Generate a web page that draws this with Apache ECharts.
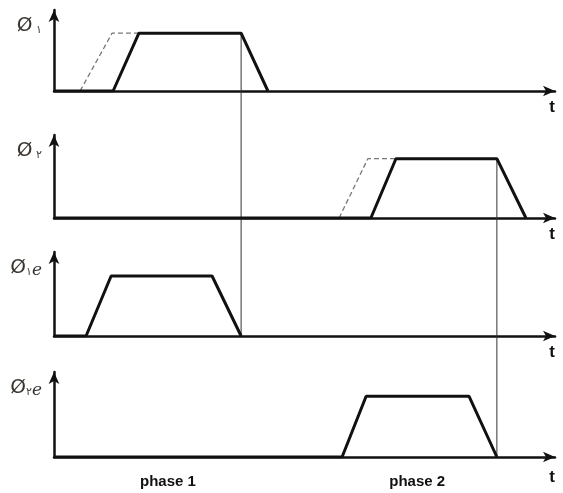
<!DOCTYPE html>
<html>
<head>
<meta charset="utf-8">
<script src="https://cdn.jsdelivr.net/npm/echarts@6/dist/echarts.min.js"></script>
<style>
  html, body { margin: 0; padding: 0; background: #fff; }
  #chart { width: 563px; height: 493px; }
</style>
</head>
<body>
<div id="chart"></div>
<script>
// time values (arbitrary units) and levels
const phi1Solid = [[0, 0], [2.36, 0], [3.39, 1], [7.47, 1], [8.54, 0]]
const phi1Dashed = [[1.04, 0], [2.32, 1], [3.39, 1]]
const phi2Solid = [[0, 0], [12.65, 0], [13.65, 1], [17.68, 1], [18.84, 0]]
const phi2Dashed = [[11.38, 0], [12.53, 1], [13.65, 1]]
const phi1e = [[0, 0], [1.28, 0], [2.28, 1], [6.31, 1], [7.47, 0]]
const phi2e = [[0, 0], [11.5, 0], [12.46, 1], [16.57, 1], [17.68, 0]]

const axisNames = ['{p|Ø}{s| ١}', '{p|Ø}{s| ٢}', '{p|Ø}{s|١}{e|e}', '{p|Ø}{s|٢}{e|e}']
const phaseLabels = ['phase 1', 'phase 2']
const phaseCenters = [4.55, 14.5]
// vertical guide lines: [t, fromPanel, toPanel]
const guideLines = [[7.47, 0, 2], [17.68, 1, 3]]

const tMax = 20
const yMax = 1.4

const chart = echarts.init(document.getElementById('chart'))

const gridTops = [10, 135, 252, 372]
const gridHeights = [81, 83, 84, 85]

const grids = gridTops.map((top, i) => ({
  left: 54,
  right: 8,
  top: top,
  height: gridHeights[i]
}))

const xAxes = grids.map((g, i) => ({
  type: 'value',
  gridIndex: i,
  min: 0,
  max: tMax,
  name: 't',
  nameLocation: 'end',
  nameGap: -3,
  nameTextStyle: {
    fontFamily: 'Liberation Sans',
    fontWeight: 'bold',
    fontSize: 17,
    color: '#111',
    align: 'center',
    verticalAlign: 'top',
    padding: [i === 3 ? 12 : 8, 0, 0, 0]
  },
  axisLine: {
    show: true,
    symbol: ['none', 'arrow'],
    symbolSize: [8, 12],
    lineStyle: { color: '#111', width: 2.5 }
  },
  axisTick: { show: false },
  axisLabel: { show: false },
  splitLine: { show: false }
}))

const yAxes = grids.map((g, i) => ({
  type: 'value',
  gridIndex: i,
  min: 0,
  max: yMax,
  name: axisNames[i],
  nameLocation: 'end',
  nameGap: -16,
  nameTextStyle: {
    align: 'right',
    verticalAlign: 'middle',
    padding: [0, 12, 0, 0],
    rich: {
      p: { fontFamily: 'DejaVu Sans', fontSize: 20, color: '#3a3530' },
      s: { fontFamily: 'DejaVu Sans', fontSize: 11, color: '#444', padding: [8, 0, 0, 0] },
      e: { fontFamily: 'DejaVu Serif', fontStyle: 'italic', fontSize: 17, color: '#333', padding: [6, 0, 0, 0] }
    }
  },
  axisLine: {
    show: true,
    symbol: ['none', 'arrow'],
    symbolSize: [8, 12],
    lineStyle: { color: '#111', width: 2.5 }
  },
  axisTick: { show: false },
  axisLabel: { show: false },
  splitLine: { show: false }
}))

const solidLine = (data, idx) => ({
  type: 'line',
  xAxisIndex: idx,
  yAxisIndex: idx,
  data: data,
  showSymbol: false,
  silent: true,
  animation: false,
  lineStyle: { color: '#111', width: 3 },
  z: 3
})

const dashedLine = (data, idx) => ({
  type: 'line',
  xAxisIndex: idx,
  yAxisIndex: idx,
  data: data,
  showSymbol: false,
  silent: true,
  animation: false,
  lineStyle: { color: '#777', width: 1.3, type: [5, 3] },
  z: 2
})

chart.setOption({
  animation: false,
  grid: grids,
  xAxis: xAxes,
  yAxis: yAxes,
  series: [
    dashedLine(phi1Dashed, 0),
    solidLine(phi1Solid, 0),
    dashedLine(phi2Dashed, 1),
    solidLine(phi2Solid, 1),
    solidLine(phi1e, 2),
    solidLine(phi2e, 3)
  ]
})

// guide lines and phase labels positioned via the axes' scales
const graphics = []
guideLines.forEach(([t, from, to]) => {
  const p1 = chart.convertToPixel({ gridIndex: from }, [t, 1])
  const p2 = chart.convertToPixel({ gridIndex: to }, [t, 0])
  graphics.push({
    type: 'line',
    shape: { x1: p1[0], y1: p1[1], x2: p2[0], y2: p2[1] },
    style: { stroke: '#333', lineWidth: 1 },
    z: 1
  })
})
phaseLabels.forEach((label, i) => {
  const p = chart.convertToPixel({ gridIndex: 3 }, [phaseCenters[i], 0])
  graphics.push({
    type: 'text',
    x: p[0],
    y: p[1] + 25,
    style: {
      text: label,
      font: 'bold 15px "Liberation Sans"',
      fill: '#111',
      align: 'center',
      verticalAlign: 'middle'
    }
  })
})
chart.setOption({ graphic: graphics })
</script>
</body>
</html>
